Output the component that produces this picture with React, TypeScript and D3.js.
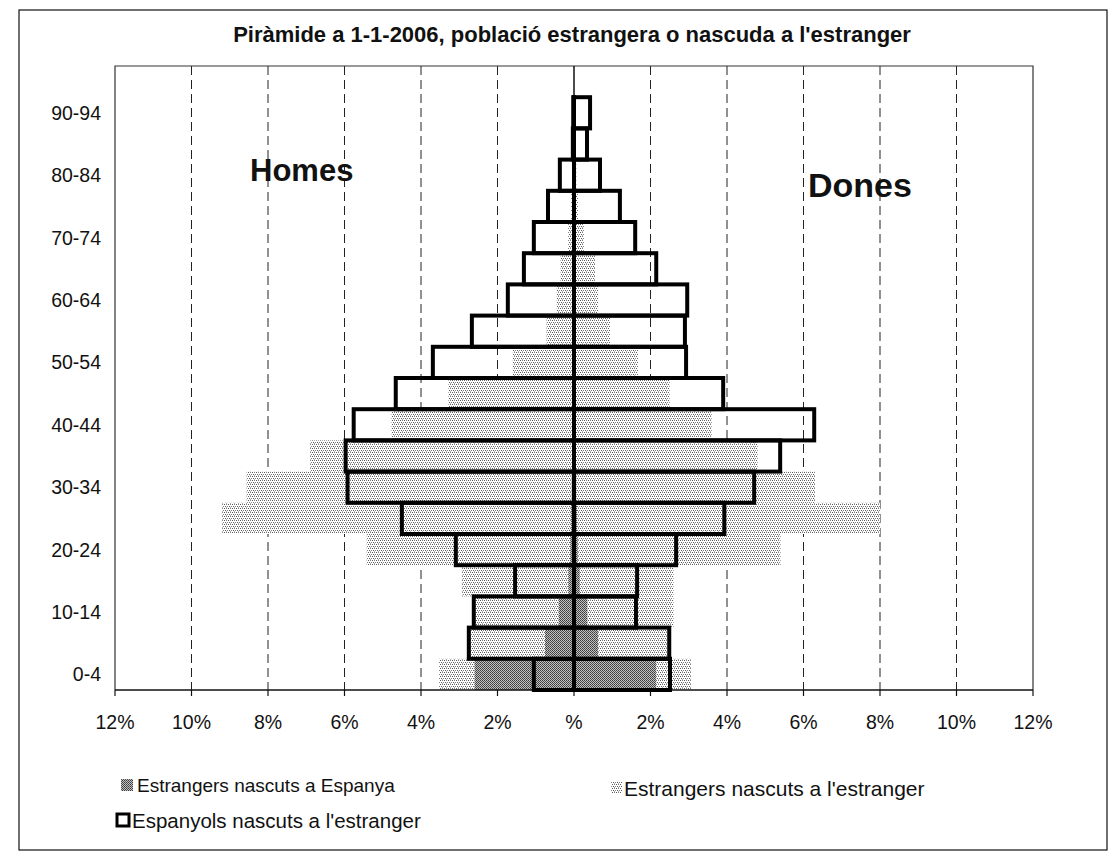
import React from "react";
import * as d3 from "d3";

// age groups, bottom to top (95+ is an empty row at the top of the plot)
const ageGroups = [
  "0-4", "5-9", "10-14", "15-19", "20-24", "25-29", "30-34", "35-39", "40-44", "45-49",
  "50-54", "55-59", "60-64", "65-69", "70-74", "75-79", "80-84", "85-89", "90-94", "95+",
];

// % of population
// foreigners born in Spain (dark)
const menBornSpain = [2.6, 0.76, 0.4, 0.15, 0.1, 0.08, 0.06, 0.05, 0.05, 0.04, 0.03, 0.03, 0.02, 0.02, 0.01, 0.01, 0, 0, 0, 0];
const womenBornSpain = [2.15, 0.63, 0.35, 0.15, 0.1, 0.08, 0.06, 0.05, 0.05, 0.04, 0.03, 0.03, 0.02, 0.02, 0.01, 0.01, 0, 0, 0, 0];
// foreigners born abroad (light, stacked after the dark one)
const menBornAbroad = [0.93, 1.96, 2.25, 2.78, 5.32, 9.12, 8.5, 6.85, 4.72, 3.24, 1.57, 0.69, 0.43, 0.33, 0.14, 0.07, 0.05, 0.03, 0.02, 0];
const womenBornAbroad = [0.91, 1.82, 2.25, 2.45, 5.3, 7.92, 6.24, 4.75, 3.55, 2.46, 1.64, 0.91, 0.61, 0.53, 0.25, 0.09, 0.06, 0.04, 0.02, 0];
// Spaniards born abroad (outlined, overlapping from 0)
const menSpanish = [1.05, 2.75, 2.62, 1.54, 3.09, 4.5, 5.92, 5.97, 5.76, 4.66, 3.69, 2.67, 1.73, 1.31, 1.05, 0.68, 0.37, 0.03, 0.02, 0];
const womenSpanish = [2.51, 2.49, 1.62, 1.65, 2.67, 3.93, 4.71, 5.39, 6.28, 3.9, 2.93, 2.9, 2.96, 2.15, 1.6, 1.2, 0.68, 0.34, 0.42, 0];

const xTicks = [-12, -10, -8, -6, -4, -2, 0, 2, 4, 6, 8, 10, 12];

const W = 1112;
const H = 857;
const m = { left: 115, right: 1033, top: 66, bottom: 690 };
const font = "'Liberation Sans', Arial, sans-serif";

export default function App() {
  const x = d3.scaleLinear().domain([-12, 12]).range([m.left, m.right]);
  const y = d3.scaleBand().domain(ageGroups).range([m.bottom, m.top]).padding(0);
  const bh = y.bandwidth();

  const bar = (from: number, to: number) => {
    const a = x(from);
    const b = x(to);
    return { x: Math.min(a, b), w: Math.abs(b - a) };
  };

  return (
    <svg
      width={W}
      height={H}
      style={{ position: "absolute", left: 0, top: 0, background: "#fff", fontFamily: font }}
    >
      <defs>
        <pattern id="lightDots" width="4" height="4" patternUnits="userSpaceOnUse">
          <rect width="4" height="4" fill="#fff" />
          <rect x="0" y="0" width="1" height="1" fill="#5a5a5a" />
          <rect x="2" y="0" width="1" height="1" fill="#808080" />
          <rect x="1" y="2" width="1" height="1" fill="#5a5a5a" />
          <rect x="3" y="2" width="1" height="1" fill="#808080" />
          <rect x="2" y="3" width="1" height="1" fill="#b0b0b0" />
        </pattern>
        <pattern id="darkDots" width="2" height="2" patternUnits="userSpaceOnUse">
          <rect width="2" height="2" fill="#c0c0c0" />
          <rect x="0" y="0" width="1" height="1" fill="#3c3c3c" />
          <rect x="1" y="1" width="1" height="1" fill="#505050" />
        </pattern>
      </defs>

      {/* outer frame */}
      <rect x={19} y={10} width={1088} height={840} fill="none" stroke="#111" strokeWidth={1.2} />

      {/* title */}
      <text x={572} y={42} textAnchor="middle" fontWeight="bold" fontSize={22} fill="#111">
        Piràmide a 1-1-2006, població estrangera o nascuda a l'estranger
      </text>

      {/* dashed grid */}
      {xTicks
        .filter((t) => t !== 0 && Math.abs(t) !== 12)
        .map((t) => (
          <line
            key={"g" + t}
            x1={x(t)}
            x2={x(t)}
            y1={m.top}
            y2={m.bottom}
            stroke="#222"
            strokeWidth={1}
            strokeDasharray="9 5"
          />
        ))}

      {/* plot frame */}
      <path
        d={`M${m.left},${m.bottom}V${m.top}H${m.right}V${m.bottom}`}
        fill="none"
        stroke="#333"
        strokeWidth={1.2}
      />

      {/* light bars: born abroad, stacked after the dark ones */}
      {ageGroups.map((g, i) => {
        const l = bar(-menBornSpain[i], -(menBornSpain[i] + menBornAbroad[i]));
        const r = bar(womenBornSpain[i], womenBornSpain[i] + womenBornAbroad[i]);
        return (
          <g key={"l" + g}>
            <rect x={l.x} y={y(g)} width={l.w} height={bh} fill="url(#lightDots)" />
            <rect x={r.x} y={y(g)} width={r.w} height={bh} fill="url(#lightDots)" />
          </g>
        );
      })}

      {/* dark bars: born in Spain */}
      {ageGroups.map((g, i) => {
        const l = bar(0, -menBornSpain[i]);
        const r = bar(0, womenBornSpain[i]);
        return (
          <g key={"d" + g}>
            <rect x={l.x} y={y(g)} width={l.w} height={bh} fill="url(#darkDots)" />
            <rect x={r.x} y={y(g)} width={r.w} height={bh} fill="url(#darkDots)" />
          </g>
        );
      })}

      {/* x axis line + ticks */}
      <line x1={m.left} x2={m.right} y1={m.bottom} y2={m.bottom} stroke="#111" strokeWidth={1.5} />
      {xTicks.map((t) => (
        <g key={"t" + t}>
          <line x1={x(t)} x2={x(t)} y1={m.bottom} y2={m.bottom + 6} stroke="#111" strokeWidth={1.2} />
          <text x={x(t)} y={729} textAnchor="middle" fontSize={19.5} fill="#111">
            {t === 0 ? "%" : Math.abs(t) + "%"}
          </text>
        </g>
      ))}

      {/* center axis */}
      <line x1={x(0)} x2={x(0)} y1={m.top} y2={m.bottom} stroke="#111" strokeWidth={1.5} />

      {/* outlined bars: Spaniards born abroad */}
      {ageGroups.map((g, i) => {
        if (menSpanish[i] === 0 && womenSpanish[i] === 0) return null;
        const l = bar(0, -menSpanish[i]);
        const r = bar(0, womenSpanish[i]);
        return (
          <g key={"o" + g} fill="none" stroke="#000" strokeWidth={4}>
            <rect x={l.x} y={y(g)} width={l.w} height={bh} />
            <rect x={r.x} y={y(g)} width={r.w} height={bh} />
          </g>
        );
      })}

      {/* category labels, every other group */}
      {ageGroups.map((g, i) =>
        i % 2 === 0 ? (
          <text
            key={"c" + g}
            x={101}
            y={(y(g) as number) + bh / 2 + 7}
            textAnchor="end"
            fontSize={19.5}
            fill="#111"
          >
            {g}
          </text>
        ) : null,
      )}

      {/* sex labels */}
      <text x={250} y={181} fontSize={31} fontWeight="bold" fill="#111">
        Homes
      </text>
      <text x={808} y={197} fontSize={34} fontWeight="bold" fill="#111">
        Dones
      </text>

      {/* legend */}
      <rect x={121} y={779} width={12} height={12} fill="url(#darkDots)" />
      <text x={137} y={792} fontSize={19} fill="#111">
        Estrangers nascuts a Espanya
      </text>
      <rect x={611} y={782} width={11} height={11} fill="url(#lightDots)" />
      <text x={624} y={796} fontSize={21} fill="#111">
        Estrangers nascuts a l'estranger
      </text>
      <rect x={117} y={814} width={12} height={12} fill="#fff" stroke="#000" strokeWidth={3} />
      <text x={132} y={828} fontSize={20.5} fill="#111">
        Espanyols nascuts a l'estranger
      </text>
    </svg>
  );
}
